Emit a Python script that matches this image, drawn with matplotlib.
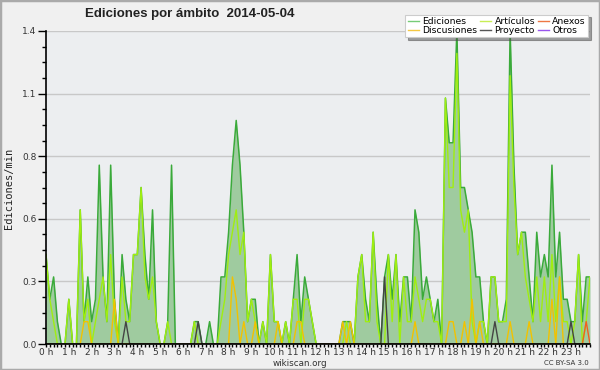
import matplotlib
matplotlib.use("Agg")
import matplotlib.pyplot as plt
from matplotlib.patches import Rectangle
from matplotlib.ticker import MultipleLocator

# 10-minute bins (144 per day), values in edits per minute
ediciones = [0.4, 0.2, 0.3, 0.1, 0, 0, 0.2, 0, 0, 0.6, 0.1, 0.3,
             0.1, 0.2, 0.8, 0.3, 0.1, 0.8, 0.2, 0, 0.4, 0.2, 0.1, 0.4,
             0.4, 0.7, 0.4, 0.2, 0.6, 0.1, 0, 0, 0.1, 0.8, 0, 0,
             0, 0, 0, 0.1, 0.1, 0, 0, 0.1, 0, 0, 0.3, 0.3,
             0.5, 0.8, 1.0, 0.8, 0.5, 0.1, 0.2, 0.2, 0, 0.1, 0, 0.4,
             0.1, 0.1, 0, 0.1, 0, 0.2, 0.4, 0.1, 0.3, 0.2, 0.1, 0,
             0, 0, 0, 0, 0, 0, 0.1, 0.1, 0.1, 0, 0.3, 0.4,
             0.2, 0.1, 0.5, 0.2, 0, 0.3, 0.4, 0.2, 0.4, 0.1, 0.3, 0.3,
             0.1, 0.6, 0.5, 0.2, 0.3, 0.2, 0.1, 0.2, 0, 1.1, 0.9, 0.9,
             1.4, 0.7, 0.7, 0.6, 0.5, 0.3, 0.3, 0.1, 0, 0.3, 0.3, 0.1,
             0.1, 0.2, 1.4, 0.8, 0.4, 0.5, 0.5, 0.3, 0.1, 0.5, 0.3, 0.4,
             0.3, 0.8, 0.3, 0.5, 0.2, 0.2, 0.1, 0.1, 0.4, 0.1, 0.3, 0.3]

articulos = [0.4, 0.2, 0.1, 0, 0, 0, 0.2, 0, 0, 0.6, 0.1, 0.2,
             0, 0.1, 0.2, 0.3, 0.1, 0.4, 0.1, 0, 0.3, 0.1, 0.1, 0.4,
             0.4, 0.7, 0.3, 0.2, 0.3, 0.1, 0, 0, 0.1, 0, 0, 0,
             0, 0, 0, 0.1, 0, 0, 0, 0, 0, 0, 0.1, 0.2,
             0.4, 0.5, 0.6, 0.4, 0.5, 0.1, 0.2, 0.1, 0, 0.1, 0, 0.4,
             0.1, 0.1, 0, 0.1, 0, 0.2, 0.2, 0, 0.2, 0.2, 0.1, 0,
             0, 0, 0, 0, 0, 0, 0, 0.1, 0, 0, 0.3, 0.4,
             0.1, 0.1, 0.5, 0.1, 0, 0, 0.4, 0.1, 0.4, 0, 0.3, 0.1,
             0.1, 0.3, 0.2, 0.1, 0.2, 0.2, 0.1, 0.1, 0, 1.1, 0.7, 0.7,
             1.3, 0.6, 0.5, 0.6, 0.1, 0, 0.1, 0.1, 0, 0.3, 0.3, 0.1,
             0.1, 0.1, 1.2, 0.7, 0.4, 0.5, 0.3, 0.2, 0.1, 0.3, 0.1, 0.3,
             0.1, 0.4, 0.1, 0.3, 0.1, 0.1, 0, 0.1, 0.4, 0, 0.1, 0.3]

discusiones = [0, 0, 0, 0, 0, 0, 0, 0, 0, 0, 0.1, 0.1,
               0, 0, 0, 0, 0, 0, 0.2, 0, 0, 0, 0, 0,
               0, 0, 0, 0, 0, 0, 0, 0, 0, 0, 0, 0,
               0, 0, 0, 0, 0, 0, 0, 0, 0, 0, 0, 0,
               0, 0.3, 0.2, 0, 0.1, 0, 0, 0.1, 0, 0, 0, 0,
               0, 0.1, 0, 0, 0, 0, 0.1, 0.1, 0, 0, 0, 0,
               0, 0, 0, 0, 0, 0, 0.1, 0, 0.1, 0, 0, 0,
               0, 0, 0, 0, 0, 0, 0, 0, 0, 0, 0, 0,
               0, 0.1, 0, 0, 0, 0, 0, 0, 0, 0, 0.1, 0.1,
               0, 0, 0.1, 0, 0.2, 0, 0.1, 0, 0, 0, 0, 0,
               0, 0, 0.1, 0, 0, 0, 0, 0.1, 0, 0, 0, 0,
               0, 0.2, 0, 0.3, 0, 0, 0, 0, 0, 0, 0, 0]

proyecto = [0] * 144
for i, v in [(21, 0.1), (40, 0.1), (89, 0.3), (118, 0.1), (138, 0.1)]:
    proyecto[i] = v

anexos = [0] * 144
anexos[142] = 0.1

otros = [0] * 144

hour_labels = [f"{h} h" for h in range(24)]
ytick_vals = [0, 0.28, 0.56, 0.84, 1.12, 1.4]
ytick_labels = ["0.0", "0.3", "0.6", "0.8", "1.1", "1.4"]

x = list(range(144))

fig = plt.figure(figsize=(6, 3.7), dpi=100, facecolor="#f0f0f0")
ax = fig.add_axes([46/600, 1-344/370, 544/600, 313/370])
ax.set_facecolor("#eceef0")

ax.fill_between(x, ediciones, 0, color="#9fcb9f", lw=0, zorder=1)
ax.plot(x, ediciones, color="#3aaa3a", lw=1.1, zorder=2)
ax.plot(x, articulos, color="#a0ee10", lw=1.0, zorder=2)
ax.plot(x, anexos, color="#f06020", lw=1.0, zorder=2)
ax.plot(x, discusiones, color="#f2c200", lw=1.0, zorder=2)
ax.plot(x, proyecto, color="#444444", lw=1.0, zorder=2)
ax.plot(x, otros, color="#9933ee", lw=1.0, zorder=1.5)

ax.set_xlim(0, 143)
ax.set_ylim(0, 1.4)

ax.set_yticks(ytick_vals)
ax.set_yticklabels(ytick_labels, fontsize=6.5, color="#333333")
ax.yaxis.set_minor_locator(MultipleLocator(0.07))
ax.tick_params(axis="y", which="major", length=6, width=1, pad=1, direction="out")
ax.tick_params(axis="y", which="minor", length=3, width=1, direction="out")

ax.set_xticks(list(range(0, 144, 6)))
ax.set_xticklabels(hour_labels, fontsize=6.5, color="#333333")
ax.xaxis.set_minor_locator(MultipleLocator(1))
ax.tick_params(axis="x", which="both", length=2.5, width=1, pad=0.3, direction="out")

ax.grid(axis="y", which="major", color="#c8c8c8", lw=1)
ax.set_axisbelow(True)
for s in ["top", "right"]:
    ax.spines[s].set_visible(False)
for s in ["left", "bottom"]:
    ax.spines[s].set_linewidth(1.2)
    ax.spines[s].set_zorder(3)

fig.text(9/600, 1-188/370, "Ediciones/min", rotation=90, ha="center", va="center",
         fontsize=7.5, family="DejaVu Sans Mono", color="#222222")
fig.text(85/600, 1-14/370, "Ediciones por ámbito  2014-05-04", ha="left", va="center",
         fontsize=9.5, fontweight="bold", family="Liberation Sans", color="#222222")
fig.text(300/600, 1-363/370, "wikiscan.org", ha="center", va="center", fontsize=6.3, color="#333333")
fig.text(589/600, 1-363/370, "CC BY-SA 3.0", ha="right", va="center", fontsize=5, color="#333333")

handles = [
    plt.Line2D([], [], color="#77cc77", lw=1),
    plt.Line2D([], [], color="#f5c842", lw=1),
    plt.Line2D([], [], color="#c8ee55", lw=1),
    plt.Line2D([], [], color="#555555", lw=1),
    plt.Line2D([], [], color="#ee7744", lw=1),
    plt.Line2D([], [], color="#9955ee", lw=1),
]
labels = ["Ediciones", "Discusiones", "Artículos", "Proyecto", "Anexos", "Otros"]
leg = fig.legend(handles, labels, ncol=3, loc="upper right",
                 bbox_to_anchor=(593/600, 1-10/370), fontsize=6.7,
                 handlelength=1.2, handletextpad=0.35, columnspacing=0.3,
                 labelspacing=0.0, borderpad=0.25, fancybox=False, shadow=True,
                 frameon=True, framealpha=1, edgecolor="#cccccc")
leg.get_frame().set_linewidth(0.8)

fig.patches.append(Rectangle((0, 0), 1, 1, transform=fig.transFigure, fill=False,
                             edgecolor="#aaaaaa", lw=2.5, zorder=10))

fig.savefig("out.png", dpi=100, facecolor=fig.get_facecolor())
